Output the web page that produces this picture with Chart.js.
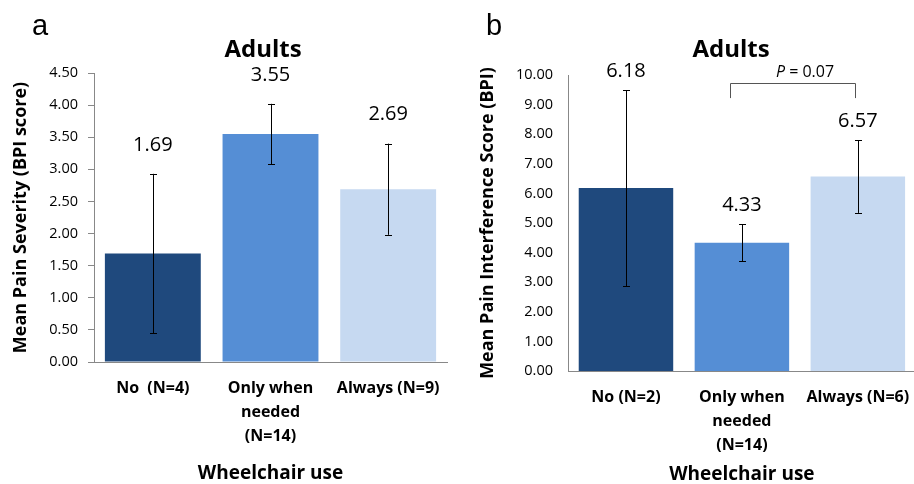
<!DOCTYPE html>
<html>
<head>
<meta charset="utf-8">
<script src="https://cdn.jsdelivr.net/npm/chart.js@4.4.0/dist/chart.umd.min.js"></script>
<style>
  body { margin: 0; background: #fff; width: 914px; height: 484px; overflow: hidden; position: relative; }
  canvas { position: absolute; top: 0; }
</style>
</head>
<body>
<canvas id="chartA" width="460" height="484" style="left:0px"></canvas>
<canvas id="chartB" width="470" height="484" style="left:454px"></canvas>
<script>
// ---------------------
// data
// ---------------------
const severityLabels = [["No  (N=4)"], ["Only when", "needed", "(N=14)"], ["Always (N=9)"]];
const severityMeans = [1.69, 3.55, 2.69];
const severityErrors = [1.24, 0.47, 0.71];
const severityTicks = [0, 0.5, 1, 1.5, 2, 2.5, 3, 3.5, 4, 4.5];

const interferenceLabels = [["No (N=2)"], ["Only when", "needed", "(N=14)"], ["Always (N=6)"]];
const interferenceMeans = [6.18, 4.33, 6.57];
const interferenceErrors = [3.31, 0.63, 1.23];
const interferenceTicks = [0, 1, 2, 3, 4, 5, 6, 7, 8, 9, 10];

const barColors = ["#1F497D", "#558ED5", "#C6D9F1"];
const FONT = "'Open Sans', sans-serif";
const AXIS_GREY = "#888888";

// error bars + value labels above them
const errorBarPlugin = {
  id: "errorBars",
  afterDatasetsDraw(chart, args, opts) {
    const ctx = chart.ctx;
    const y = chart.scales.y;
    const meta = chart.getDatasetMeta(0);
    const values = chart.data.datasets[0].data;
    ctx.save();
    ctx.strokeStyle = "#000";
    ctx.lineWidth = 1;
    meta.data.forEach((bar, i) => {
      const x = Math.round(bar.x) + 0.5;
      const top = y.getPixelForValue(values[i] + opts.errors[i]);
      const bot = y.getPixelForValue(values[i] - opts.errors[i]);
      ctx.beginPath();
      ctx.moveTo(x, top); ctx.lineTo(x, bot);
      ctx.moveTo(x - 3.5, Math.round(top) + 0.5); ctx.lineTo(x + 3.5, Math.round(top) + 0.5);
      ctx.moveTo(x - 3.5, Math.round(bot) + 0.5); ctx.lineTo(x + 3.5, Math.round(bot) + 0.5);
      ctx.stroke();
      ctx.fillStyle = "#000";
      ctx.font = "20px " + FONT;
      ctx.textAlign = "center";
      ctx.textBaseline = "middle";
      ctx.fillText(values[i].toFixed(2), bar.x, top - opts.labelOffset);
    });
    ctx.restore();
  }
};

// panel letter and title
const panelTextPlugin = {
  id: "panelText",
  afterDraw(chart, args, opts) {
    const ctx = chart.ctx;
    ctx.save();
    ctx.fillStyle = "#000";
    ctx.textBaseline = "alphabetic";
    ctx.textAlign = "left";
    ctx.font = "29px 'Liberation Sans', Arial, sans-serif";
    ctx.fillText(opts.letter, opts.letterX, 35);
    ctx.textAlign = "center";
    ctx.font = "bold 24px " + FONT;
    ctx.fillText(opts.title, opts.titleX, 57);
    ctx.restore();
  }
};

// significance bracket between two bars
const bracketPlugin = {
  id: "bracket",
  afterDraw(chart, args, opts) {
    if (!opts.text) return;
    const ctx = chart.ctx;
    const meta = chart.getDatasetMeta(0);
    const y = chart.scales.y;
    const x1 = Math.round(meta.data[opts.from].x - 12) + 0.5;
    const x2 = Math.round(meta.data[opts.to].x - 3) + 0.5;
    const yTop = Math.round(y.getPixelForValue(opts.level)) + 0.5;
    const yLeg = y.getPixelForValue(opts.legEnd);
    ctx.save();
    ctx.strokeStyle = "#555";
    ctx.lineWidth = 1;
    ctx.beginPath();
    ctx.moveTo(x1, yLeg); ctx.lineTo(x1, yTop); ctx.lineTo(x2, yTop); ctx.lineTo(x2, yLeg);
    ctx.stroke();
    ctx.fillStyle = "#000";
    ctx.textBaseline = "middle";
    const rest = " = " + opts.text;
    ctx.font = "italic 16px " + FONT;
    const wP = ctx.measureText("P").width;
    ctx.font = "16px " + FONT;
    const wR = ctx.measureText(rest).width;
    const cx = (x1 + x2) / 2 + 12;
    const start = cx - (wP + wR) / 2;
    ctx.textAlign = "left";
    ctx.font = "italic 16px " + FONT;
    ctx.fillText("P", start, yTop - 11);
    ctx.font = "16px " + FONT;
    ctx.fillText(rest, start + wP, yTop - 11);
    ctx.restore();
  }
};

function makeChart(id, cfg) {
  return new Chart(document.getElementById(id).getContext("2d"), {
    type: "bar",
    data: {
      labels: cfg.labels,
      datasets: [{ data: cfg.means, backgroundColor: barColors, barPercentage: 0.815, categoryPercentage: 1 }]
    },
    options: {
      responsive: false,
      animation: false,
      devicePixelRatio: 1,
      layout: { padding: { left: 0, right: cfg.rightPad, top: cfg.top, bottom: 0 } },
      plugins: {
        legend: { display: false },
        tooltip: { enabled: false },
        errorBars: { errors: cfg.errors, labelOffset: cfg.labelOffset },
        panelText: { letter: cfg.letter, letterX: cfg.letterX, title: "Adults", titleX: cfg.titleX },
        bracket: cfg.bracket || {}
      },
      scales: {
        x: {
          offset: true,
          grid: { display: false, drawTicks: false },
          border: { display: true, color: AXIS_GREY, width: 1 },
          ticks: { color: "#000", padding: 14, maxRotation: 0, autoSkip: false,
                   font: { family: FONT, size: 16, weight: "bold", lineHeight: 1.5 } },
          title: { display: true, text: "Wheelchair use", color: "#000",
                   font: { family: FONT, size: 19, weight: "bold", lineHeight: 1 },
                   padding: { top: 0, bottom: cfg.xTitlePad } },
          afterFit: s => { s.height = cfg.xHeight; }
        },
        y: {
          min: 0,
          max: cfg.ticks[cfg.ticks.length - 1],
          afterBuildTicks: s => { s.ticks = cfg.ticks.map(v => ({ value: v })); },
          grid: { display: cfg.yTickMarks, drawOnChartArea: false, drawTicks: cfg.yTickMarks, tickLength: 6, color: AXIS_GREY },
          border: { display: true, color: AXIS_GREY, width: 1 },
          ticks: { color: "#000", padding: cfg.yTickPad, callback: v => v.toFixed(2),
                   font: { family: FONT, size: 14.5 } },
          title: { display: true, text: cfg.yTitle, color: "#000",
                   font: { family: FONT, size: 18, weight: "bold", lineHeight: 1 },
                   padding: { top: cfg.yTitlePad, bottom: 0 } },
          afterFit: s => { s.width = cfg.yWidth; }
        }
      }
    },
    plugins: [errorBarPlugin, panelTextPlugin, bracketPlugin]
  });
}

makeChart("chartA", {
  labels: severityLabels, means: severityMeans, errors: severityErrors, ticks: severityTicks,
  letter: "a", letterX: 32, titleX: 263,
  yTitle: "Mean Pain Severity (BPI score)",
  top: 73, rightPad: 13, yWidth: 94, xHeight: 122,
  yTickMarks: true, yTickPad: 10, yTitlePad: 12, xTitlePad: 1, labelOffset: 29
});

makeChart("chartB", {
  labels: interferenceLabels, means: interferenceMeans, errors: interferenceErrors, ticks: interferenceTicks,
  letter: "b", letterX: 32, titleX: 277,
  yTitle: "Mean Pain Interference Score (BPI)",
  top: 75, rightPad: 5, yWidth: 114, xHeight: 113,
  yTickMarks: false, yTickPad: 15, yTitlePad: 25, xTitlePad: 0, labelOffset: 19,
  bracket: { from: 1, to: 2, level: 9.73, legEnd: 9.22, text: "0.07" }
});
</script>
</body>
</html>
